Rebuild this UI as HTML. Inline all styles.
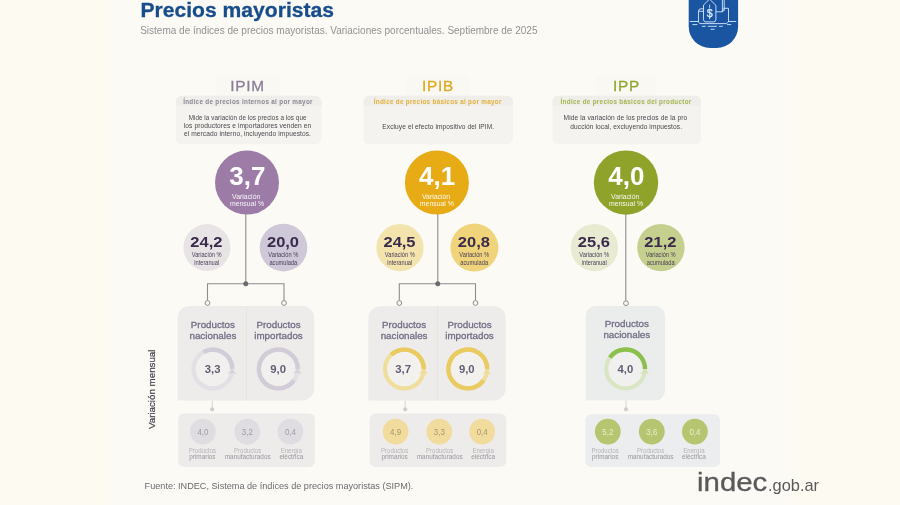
<!DOCTYPE html>
<html lang="es"><head><meta charset="utf-8"><title>Precios mayoristas</title>
<style>
html,body{margin:0;padding:0;background:#fcfaf5;}
body{width:900px;height:505px;overflow:hidden;font-family:"Liberation Sans", sans-serif;}
svg{display:block;position:absolute;left:0;top:0;}
text{font-family:"Liberation Sans", sans-serif;}
.c{text-anchor:middle;}
.b{font-weight:700;}
</style></head><body>
<svg width="900" height="505" viewBox="0 0 900 505">
<rect x="0" y="0" width="900" height="505" fill="#fcfaf5"/>
<rect x="0" y="0" width="108" height="505" fill="#fdfaf2"/>
<rect x="792" y="0" width="108" height="505" fill="#fdfaf2"/>
<g id="header">
<text x="140.5" y="17.4" class="b" font-size="21.1" fill="#174d8b" stroke="#174d8b" stroke-width="0.3">Precios mayoristas</text>
<text x="140.2" y="33.5" font-size="10" fill="#929292">Sistema de índices de precios mayoristas. Variaciones porcentuales. Septiembre de 2025</text>
</g>
<g id="badge">
<path d="M688.7 0H738.1V26.5A21.4 21.4 0 0 1 716.7 47.9H710.1A21.4 21.4 0 0 1 688.7 26.5Z" fill="#1a55a2"/>
<g fill="none" stroke="#d6e8fc" stroke-width="0.9" stroke-linecap="round" stroke-linejoin="round">
<path d="M690.2 21.5H698.4M728.6 21.5H735.8"/>
<path d="M692.8 24.6H697M727.4 24.6H730.8M702.2 26.3H705.4M708.2 26.3H716.6M719.4 26.3H722.4M711 29.3H714.2"/>
<path d="M709.8 -0.6L715.9 5.4V19.6Q715.9 21.9 713.6 21.9H705.8Q703.5 21.9 703.5 19.6V5.4Z"/>
<path d="M703.3 8.8H701Q698.5 8.8 698.5 11.2V22.2L700 23.6H726.6L728.5 21.8V8.3H724.4"/>
<path d="M698.8 11.3H703.2M716.2 11.8H722.2L724.2 10.2M722.4 11.6V0M724.2 10.2V0M724.4 8.2L722.4 10"/>
<path d="M709.6 5.6V8.2M709.6 17.6V18.9" stroke-width="0.8"/>
<circle cx="709.6" cy="5" r="0.5" fill="#d6e8fc" stroke="none"/>
</g>
<text x="709.6" y="16.7" class="c" font-size="10.6" fill="#e4f0ff" stroke="#e4f0ff" stroke-width="0.25">$</text>
</g>
<g id="ipim">
<rect x="216" y="75.5" width="64" height="26" rx="5" fill="#faf8f3"/>
<rect x="175.8" y="95.8" width="145.6" height="48.4" rx="6" fill="#f5f3ef"/>
<path d="M175.8 106.2V101.8A6 6 0 0 1 181.8 95.8H315.4A6 6 0 0 1 321.4 101.8V106.2Z" fill="#f0eeeb"/>
<text x="247.6" y="91.1" class="c" font-size="15.4" letter-spacing="0.75" fill="#8b7e99" stroke="#8b7e99" stroke-width="0.3">IPIM</text>
<text x="248.0" y="103.7" class="c b" font-size="6.3" letter-spacing="0.31" fill="#8c8693">Índice de precios internos al por mayor</text>
<text transform="translate(247.6 120.3) scale(0.951 1)" class="c" font-size="6.6" fill="#4a484c" letter-spacing="0.08">Mide la variación de los precios a los que</text>
<text transform="translate(247.5 128.3) scale(1.007 1)" class="c" font-size="6.6" fill="#4a484c" letter-spacing="0.08">los productores e importadores venden en</text>
<text transform="translate(247.5 136.2) scale(1.003 1)" class="c" font-size="6.6" fill="#4a484c" letter-spacing="0.08">el mercado interno, incluyendo impuestos.</text>
<path d="M245.8 213.6V283.8M207.5 300.6V283.8H284.0V300.6" fill="none" stroke="#8f8c8c" stroke-width="1.1"/>
<circle cx="245.8" cy="283.8" r="2.5" fill="#6f6a70"/>
<circle cx="207.5" cy="303.0" r="2.4" fill="#fcfaf5" stroke="#8f8c8c" stroke-width="1"/>
<circle cx="284.0" cy="303.0" r="2.4" fill="#fcfaf5" stroke="#8f8c8c" stroke-width="1"/>
<circle cx="247.0" cy="182.6" r="32.0" fill="#9c7ca7"/>
<text x="247.3" y="184.8" class="c b" font-size="26" fill="#fff">3,7</text>
<text x="246.2" y="198.9" class="c" font-size="6.9" fill="#fff" fill-opacity="0.92">Variación</text>
<text x="247.0" y="206.0" class="c" font-size="6.9" fill="#fff" fill-opacity="0.92">mensual %</text>
<circle cx="206.9" cy="247.6" r="23.5" fill="#e8e4e6"/>
<text transform="translate(206.4 247.3) scale(1.085 1)" class="c b" font-size="15.2" fill="#3a2a4c">24,2</text>
<text transform="translate(206.7 257.0) scale(0.85 1)" class="c" font-size="6.7" fill="#4a3d58">Variación %</text>
<text transform="translate(206.7 264.6) scale(0.85 1)" class="c" font-size="6.7" fill="#4a3d58">interanual</text>
<circle cx="283.5" cy="247.6" r="23.8" fill="#cec8d8"/>
<text transform="translate(283.0 247.3) scale(1.085 1)" class="c b" font-size="15.2" fill="#3a2a4c">20,0</text>
<text transform="translate(283.3 257.0) scale(0.85 1)" class="c" font-size="6.7" fill="#4a3d58">Variación %</text>
<text transform="translate(283.3 264.6) scale(0.85 1)" class="c" font-size="6.7" fill="#4a3d58">acumulada</text>
<path d="M177.6 318.0A12 12 0 0 1 189.6 306.0H302.2A12 12 0 0 1 314.2 318.0V388.6A12 12 0 0 1 302.2 400.6H177.6Z" fill="#edecea"/>
<path d="M246.6 306.0V400.6" stroke="#e6e4e2" stroke-width="1" fill="none"/>
<text x="212.9" y="327.8" class="c" font-size="9.8" fill="#726d86" stroke="#726d86" stroke-width="0.3">Productos</text>
<text x="212.9" y="338.6" class="c" font-size="9.8" fill="#726d86" stroke="#726d86" stroke-width="0.3">nacionales</text>
<circle cx="212.9" cy="369.0" r="19.4" fill="#f1f0ee" stroke="#e2dfe5" stroke-width="4.2"/>
<path d="M203.55 352.00A19.4 19.4 0 0 1 232.30 369.00" fill="none" stroke="#d2ccd8" stroke-width="4.4"/>
<path d="M227.3 373.8L232.3 369.2L236.7 374.4L232.3 372.8Z" fill="#d6d1db"/>
<text x="212.7" y="373.0" class="c b" font-size="11.3" fill="#625d74">3,3</text>
<text x="278.5" y="327.8" class="c" font-size="9.8" fill="#726d86" stroke="#726d86" stroke-width="0.3">Productos</text>
<text x="278.5" y="338.6" class="c" font-size="9.8" fill="#726d86" stroke="#726d86" stroke-width="0.3">importados</text>
<circle cx="278.3" cy="369.0" r="19.4" fill="#f1f0ee" stroke="#e2dfe5" stroke-width="4.2"/>
<path d="M293.99 380.40A19.4 19.4 0 1 1 297.70 369.00" fill="none" stroke="#d2ccd8" stroke-width="4.4"/>
<path d="M292.7 373.8L297.7 369.2L302.1 374.4L297.7 372.8Z" fill="#d6d1db"/>
<text x="278.1" y="373.0" class="c b" font-size="11.3" fill="#625d74">9,0</text>
<path d="M212.2 400.6V409" stroke="#d6d4d4" stroke-width="1" fill="none"/>
<circle cx="212.2" cy="409.3" r="2.1" fill="#cfcdd0"/>
<rect x="178.2" y="413.4" width="136.7" height="53.5" rx="6" fill="#edecea"/>
<circle cx="202.9" cy="431.6" r="12.9" fill="#dfdde2"/>
<text transform="translate(202.9 434.7) scale(0.92 1)" class="c" font-size="8.6" fill="#9d9aa6">4,0</text>
<text transform="translate(202.4 452.8) scale(0.95 1)" class="c" font-size="6.4" fill="#b6b4ba">Productos</text>
<text transform="translate(202.4 458.9) scale(0.97 1)" class="c" font-size="6.6" fill="#98969f">primarios</text>
<circle cx="247.3" cy="431.6" r="12.9" fill="#dfdde2"/>
<text transform="translate(247.3 434.7) scale(0.92 1)" class="c" font-size="8.6" fill="#9d9aa6">3,2</text>
<text transform="translate(247.7 452.8) scale(0.95 1)" class="c" font-size="6.4" fill="#b6b4ba">Productos</text>
<text transform="translate(247.7 458.9) scale(0.97 1)" class="c" font-size="6.6" fill="#98969f">manufacturados</text>
<circle cx="290.4" cy="431.6" r="12.9" fill="#dfdde2"/>
<text transform="translate(290.4 434.7) scale(0.92 1)" class="c" font-size="8.6" fill="#9d9aa6">0,4</text>
<text transform="translate(291.3 452.8) scale(0.95 1)" class="c" font-size="6.4" fill="#b6b4ba">Energía</text>
<text transform="translate(291.3 458.9) scale(0.97 1)" class="c" font-size="6.6" fill="#98969f">eléctrica</text>
</g>
<g id="ipib">
<rect x="406" y="75.5" width="64" height="26" rx="5" fill="#faf8f3"/>
<rect x="363.6" y="95.8" width="149.4" height="48.4" rx="6" fill="#f5f3ef"/>
<path d="M363.6 106.2V101.8A6 6 0 0 1 369.6 95.8H507.0A6 6 0 0 1 513.0 101.8V106.2Z" fill="#f0eeeb"/>
<text x="438.0" y="91.1" class="c" font-size="15.4" letter-spacing="0.75" fill="#e0a920" stroke="#e0a920" stroke-width="0.3">IPIB</text>
<text x="437.7" y="103.7" class="c b" font-size="6.3" letter-spacing="0.31" fill="#e2b038">Índice de precios básicos al por mayor</text>
<text x="438.3" y="129.0" class="c" font-size="6.6" fill="#4a484c" letter-spacing="0.08">Excluye el efecto impositivo del IPIM.</text>
<path d="M437.8 213.6V283.8M399.3 300.6V283.8H475.5V300.6" fill="none" stroke="#8f8c8c" stroke-width="1.1"/>
<circle cx="437.8" cy="283.8" r="2.5" fill="#6f6a70"/>
<circle cx="399.3" cy="303.0" r="2.4" fill="#fcfaf5" stroke="#8f8c8c" stroke-width="1"/>
<circle cx="475.5" cy="303.0" r="2.4" fill="#fcfaf5" stroke="#8f8c8c" stroke-width="1"/>
<circle cx="436.9" cy="182.6" r="32.0" fill="#e6ab15"/>
<text x="437.2" y="184.8" class="c b" font-size="26" fill="#fff">4,1</text>
<text x="436.1" y="198.9" class="c" font-size="6.9" fill="#fff" fill-opacity="0.92">Variación</text>
<text x="436.9" y="206.0" class="c" font-size="6.9" fill="#fff" fill-opacity="0.92">mensual %</text>
<circle cx="400.0" cy="247.6" r="23.6" fill="#f3e4ad"/>
<text transform="translate(399.5 247.3) scale(1.085 1)" class="c b" font-size="15.2" fill="#3a2a4c">24,5</text>
<text transform="translate(399.8 257.0) scale(0.85 1)" class="c" font-size="6.7" fill="#4a3d58">Variación %</text>
<text transform="translate(399.8 264.6) scale(0.85 1)" class="c" font-size="6.7" fill="#4a3d58">interanual</text>
<circle cx="474.4" cy="247.6" r="24.0" fill="#efd47c"/>
<text transform="translate(473.9 247.3) scale(1.085 1)" class="c b" font-size="15.2" fill="#3a2a4c">20,8</text>
<text transform="translate(474.2 257.0) scale(0.85 1)" class="c" font-size="6.7" fill="#4a3d58">Variación %</text>
<text transform="translate(474.2 264.6) scale(0.85 1)" class="c" font-size="6.7" fill="#4a3d58">acumulada</text>
<path d="M368.4 318.3A12 12 0 0 1 380.4 306.3H493.6A12 12 0 0 1 505.6 318.3V388.6A12 12 0 0 1 493.6 400.6H368.4Z" fill="#edecea"/>
<path d="M437.6 306.3V400.6" stroke="#e6e4e2" stroke-width="1" fill="none"/>
<text x="404.1" y="328.0" class="c" font-size="9.8" fill="#726d86" stroke="#726d86" stroke-width="0.3">Productos</text>
<text x="404.1" y="338.8" class="c" font-size="9.8" fill="#726d86" stroke="#726d86" stroke-width="0.3">nacionales</text>
<circle cx="404.4" cy="369.0" r="19.4" fill="#f2f1ee" stroke="#f0de9c" stroke-width="4.2"/>
<path d="M391.12 354.86A19.4 19.4 0 0 1 423.80 369.00" fill="none" stroke="#eacb62" stroke-width="4.4"/>
<path d="M418.8 373.8L423.8 369.2L428.2 374.4L423.8 372.8Z" fill="#efdc9a"/>
<text x="403.2" y="373.0" class="c b" font-size="11.3" fill="#625d74">3,7</text>
<text x="469.5" y="328.0" class="c" font-size="9.8" fill="#726d86" stroke="#726d86" stroke-width="0.3">Productos</text>
<text x="469.5" y="338.8" class="c" font-size="9.8" fill="#726d86" stroke="#726d86" stroke-width="0.3">importados</text>
<circle cx="467.8" cy="369.0" r="19.4" fill="#f2f1ee" stroke="#f0de9c" stroke-width="4.2"/>
<path d="M483.49 380.40A19.4 19.4 0 1 1 487.20 369.00" fill="none" stroke="#eacb62" stroke-width="4.4"/>
<path d="M482.2 373.8L487.2 369.2L491.6 374.4L487.2 372.8Z" fill="#efdc9a"/>
<text x="466.8" y="373.0" class="c b" font-size="11.3" fill="#625d74">9,0</text>
<path d="M405.2 400.6V409" stroke="#d6d4d4" stroke-width="1" fill="none"/>
<circle cx="405.2" cy="409.3" r="2.1" fill="#cfcdd0"/>
<rect x="369.6" y="413.4" width="136.6" height="53.5" rx="6" fill="#edecea"/>
<circle cx="395.6" cy="431.6" r="12.9" fill="#f1dc9d"/>
<text transform="translate(395.6 434.7) scale(0.92 1)" class="c" font-size="8.6" fill="#a8956a">4,9</text>
<text transform="translate(394.6 452.8) scale(0.95 1)" class="c" font-size="6.4" fill="#b6b4ba">Productos</text>
<text transform="translate(394.6 458.9) scale(0.97 1)" class="c" font-size="6.6" fill="#98969f">primarios</text>
<circle cx="439.3" cy="431.6" r="12.9" fill="#f1dc9d"/>
<text transform="translate(439.3 434.7) scale(0.92 1)" class="c" font-size="8.6" fill="#a8956a">3,3</text>
<text transform="translate(439.7 452.8) scale(0.95 1)" class="c" font-size="6.4" fill="#b6b4ba">Productos</text>
<text transform="translate(439.7 458.9) scale(0.97 1)" class="c" font-size="6.6" fill="#98969f">manufacturados</text>
<circle cx="482.2" cy="431.6" r="12.9" fill="#f1dc9d"/>
<text transform="translate(482.2 434.7) scale(0.92 1)" class="c" font-size="8.6" fill="#a8956a">0,4</text>
<text transform="translate(483.2 452.8) scale(0.95 1)" class="c" font-size="6.4" fill="#b6b4ba">Energía</text>
<text transform="translate(483.2 458.9) scale(0.97 1)" class="c" font-size="6.6" fill="#98969f">eléctrica</text>
</g>
<g id="ipp">
<rect x="596" y="75.5" width="60" height="26" rx="5" fill="#faf8f3"/>
<rect x="552.4" y="95.8" width="148.6" height="48.4" rx="6" fill="#f5f3ef"/>
<path d="M552.4 106.2V101.8A6 6 0 0 1 558.4 95.8H695.0A6 6 0 0 1 701.0 101.8V106.2Z" fill="#f0eeeb"/>
<text x="626.5" y="91.1" class="c" font-size="15.4" letter-spacing="0.75" fill="#90a730" stroke="#90a730" stroke-width="0.3">IPP</text>
<text x="626.1" y="103.7" class="c b" font-size="6.3" letter-spacing="0.31" fill="#a3b652">Índice de precios básicos del productor</text>
<text transform="translate(625.4 120.4) scale(1.008 1)" class="c" font-size="6.6" fill="#4a484c" letter-spacing="0.08">Mide la variación de los precios de la pro</text>
<text x="626.2" y="128.6" class="c" font-size="6.6" fill="#4a484c" letter-spacing="0.08">ducción local, excluyendo impuestos.</text>
<path d="M625.8 213.8V300.8" fill="none" stroke="#8f8c8c" stroke-width="1.1"/>
<circle cx="626.0" cy="303.2" r="2.4" fill="#fcfaf5" stroke="#8f8c8c" stroke-width="1"/>
<circle cx="626.0" cy="182.6" r="32.2" fill="#8fa32b"/>
<text x="626.3" y="184.8" class="c b" font-size="26" fill="#fff">4,0</text>
<text x="625.2" y="198.9" class="c" font-size="6.9" fill="#fff" fill-opacity="0.92">Variación</text>
<text x="626.0" y="206.0" class="c" font-size="6.9" fill="#fff" fill-opacity="0.92">mensual %</text>
<circle cx="594.4" cy="247.6" r="23.7" fill="#e8ebd2"/>
<text transform="translate(593.9 247.3) scale(1.085 1)" class="c b" font-size="15.2" fill="#3a2a4c">25,6</text>
<text transform="translate(594.2 257.0) scale(0.85 1)" class="c" font-size="6.7" fill="#4a3d58">Variación %</text>
<text transform="translate(594.2 264.6) scale(0.85 1)" class="c" font-size="6.7" fill="#4a3d58">interanual</text>
<circle cx="660.9" cy="247.6" r="23.7" fill="#c6d08e"/>
<text transform="translate(660.4 247.3) scale(1.085 1)" class="c b" font-size="15.2" fill="#3a2a4c">21,2</text>
<text transform="translate(660.7 257.0) scale(0.85 1)" class="c" font-size="6.7" fill="#4a3d58">Variación %</text>
<text transform="translate(660.7 264.6) scale(0.85 1)" class="c" font-size="6.7" fill="#4a3d58">acumulada</text>
<path d="M585.6 316.0A10 10 0 0 1 595.6 306.0H655.1A10 10 0 0 1 665.1 316.0V390.6A10 10 0 0 1 655.1 400.6H585.6Z" fill="#ebedec"/>
<text x="626.8" y="326.7" class="c" font-size="9.8" fill="#726d86" stroke="#726d86" stroke-width="0.3">Productos</text>
<text x="626.8" y="337.5" class="c" font-size="9.8" fill="#726d86" stroke="#726d86" stroke-width="0.3">nacionales</text>
<circle cx="625.6" cy="368.9" r="19.4" fill="#f0f1ee" stroke="#d9e6c4" stroke-width="4.2"/>
<path d="M609.91 357.50A19.4 19.4 0 0 1 645.00 368.90" fill="none" stroke="#8cc04c" stroke-width="4.4"/>
<path d="M640.0 373.7L645.0 369.1L649.4 374.3L645.0 372.7Z" fill="#d2e2b6"/>
<text x="625.4" y="373.0" class="c b" font-size="11.3" fill="#625d74">4,0</text>
<path d="M626.0 400.6V409" stroke="#d6d4d4" stroke-width="1" fill="none"/>
<circle cx="626.0" cy="409.3" r="2.1" fill="#cfcdd0"/>
<rect x="585.3" y="414.2" width="134.7" height="52.7" rx="6" fill="#ebedee"/>
<circle cx="607.8" cy="431.6" r="12.9" fill="#b6c56f"/>
<text transform="translate(607.8 434.7) scale(0.92 1)" class="c" font-size="8.6" fill="#e9eecd">5,2</text>
<text transform="translate(605.2 452.8) scale(0.95 1)" class="c" font-size="6.4" fill="#b6b4ba">Productos</text>
<text transform="translate(605.2 458.9) scale(0.97 1)" class="c" font-size="6.6" fill="#98969f">primarios</text>
<circle cx="651.8" cy="431.6" r="12.9" fill="#b6c56f"/>
<text transform="translate(651.8 434.7) scale(0.92 1)" class="c" font-size="8.6" fill="#e9eecd">3,6</text>
<text transform="translate(650.6 452.8) scale(0.95 1)" class="c" font-size="6.4" fill="#b6b4ba">Productos</text>
<text transform="translate(650.6 458.9) scale(0.97 1)" class="c" font-size="6.6" fill="#98969f">manufacturados</text>
<circle cx="694.9" cy="431.6" r="12.9" fill="#b6c56f"/>
<text transform="translate(694.9 434.7) scale(0.92 1)" class="c" font-size="8.6" fill="#e9eecd">0,4</text>
<text transform="translate(693.9 452.8) scale(0.95 1)" class="c" font-size="6.4" fill="#b6b4ba">Energía</text>
<text transform="translate(693.9 458.9) scale(0.97 1)" class="c" font-size="6.6" fill="#98969f">eléctrica</text>
</g>
<text transform="translate(155.3 389.3) rotate(-90)" class="c" font-size="9.75" fill="#454347" stroke="#454347" stroke-width="0.2">Variación mensual</text>
<text x="144.6" y="488.8" font-size="9.15" fill="#6c6b6d">Fuente: INDEC, Sistema de índices de precios mayoristas (SIPM).</text>
<g id="logo" fill="#5b5a5a">
<text transform="translate(697.1 490.7) scale(1.18 1)" font-size="24.9" stroke="#5b5a5a" stroke-width="0.3">indec</text>
<text x="768.0" y="490.6" font-size="16.4">.gob.ar</text>
</g>
</svg>
</body></html>
